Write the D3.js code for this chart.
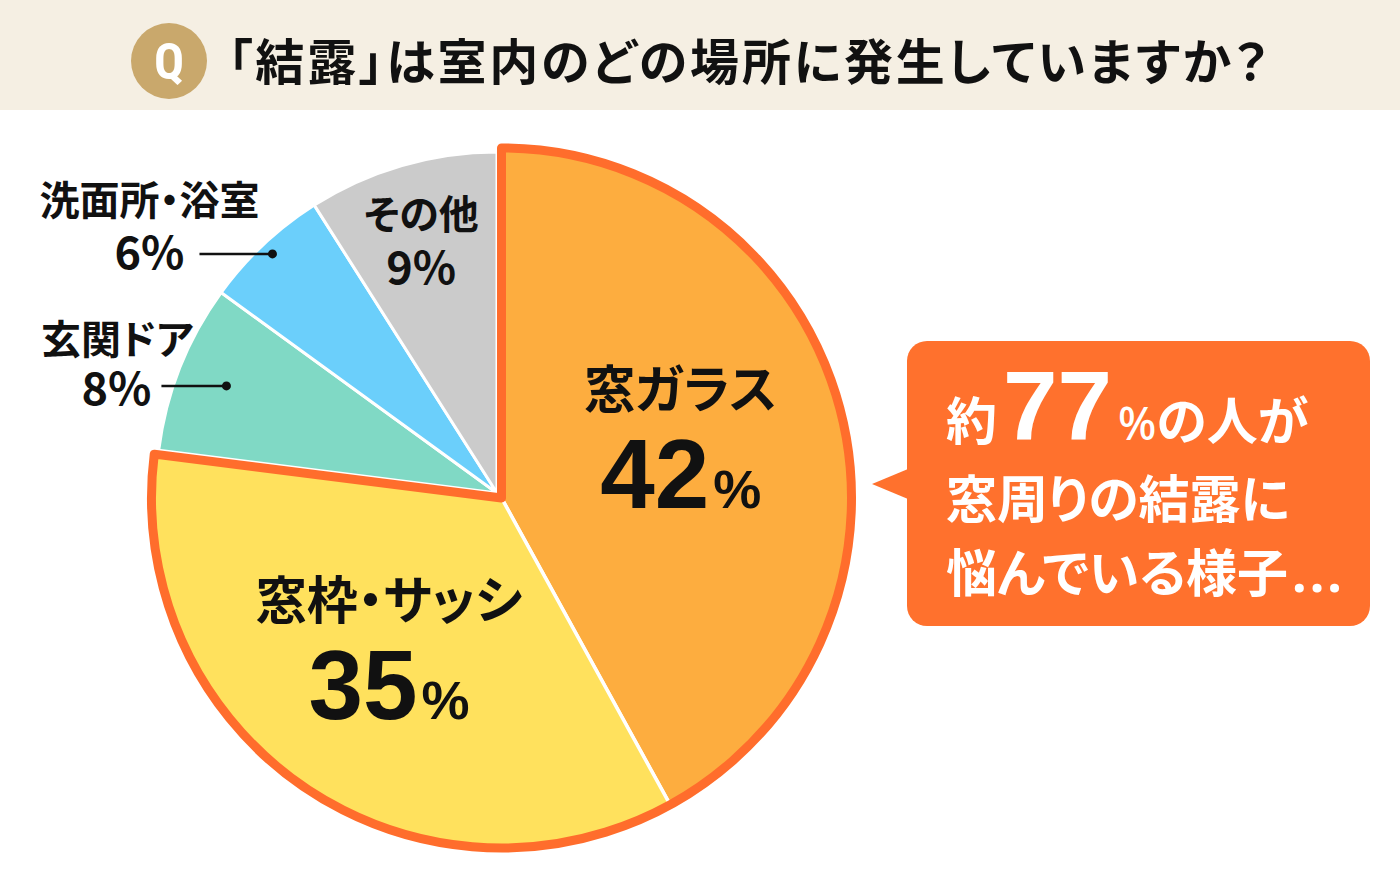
<!DOCTYPE html>
<html>
<head>
<meta charset="utf-8">
<script src="https://cdn.jsdelivr.net/npm/d3@7"></script>
<style>
  html, body { margin: 0; padding: 0; background: #fff; }
  svg { display: block; }
  text { font-family: 'Noto Sans CJK JP', 'Noto Sans', sans-serif; font-weight: 700; font-feature-settings: "palt"; }
</style>
</head>
<body>
<div id="chart"></div>
<script>
// data
const title = '「結露」は室内のどの場所に発生していますか？';
const categories = ['窓ガラス', '窓枠・サッシ', '玄関ドア', '洗面所・浴室', 'その他'];
const values = [42, 35, 8, 6, 9];
const highlighted = ['窓ガラス', '窓枠・サッシ'];
const calloutValue = 77;
const calloutLines = ['窓周りの結露に', '悩んでいる様子'];

// styles
const fills = ['#fdad3f', '#ffe15d', '#80d9c5', '#6bcffb', '#cbcbcb'];
const outlineColor = '#ff6d2c';

const width = 1400;
const height = 880;

const data = categories.map((name, i) => ({ name, value: values[i], fill: fills[i] }));

const $svg = d3.select('#chart').append('svg')
  .attr('width', width)
  .attr('height', height);

// header
$svg.append('rect')
  .attr('width', width).attr('height', 110)
  .attr('fill', '#f5efe3');
$svg.append('circle')
  .attr('cx', 169).attr('cy', 61).attr('r', 38)
  .attr('fill', '#c9a86c');
$svg.append('text')
  .attr('x', 169).attr('y', 79)
  .attr('text-anchor', 'middle')
  .attr('fill', '#fff')
  .style('font-family', "'Roboto Condensed', Roboto, sans-serif")
  .style('font-size', '50px')
  .text('Q');
$svg.append('text')
  .attr('x', 228).attr('y', 80)
  .attr('fill', '#111')
  .attr('textLength', 1040)
  .attr('lengthAdjust', 'spacing')
  .style('font-size', '49px')
  .text(title);

// pie
const pie = d3.pie().sort(null).value(d => d.value);
const arcs = pie(data);

const rBase = 341;
const rHigh = 350;
const base = { x: 497, y: 493 };
const high = { x: 501.5, y: 498 };

const arcBase = d3.arc().innerRadius(0).outerRadius(rBase);
const arcHigh = d3.arc().innerRadius(0).outerRadius(rHigh);

const $base = $svg.append('g').attr('transform', `translate(${base.x},${base.y})`);
$base.selectAll('path')
  .data(arcs)
  .join('path')
  .attr('d', arcBase)
  .attr('fill', d => d.data.fill)
  .attr('stroke', '#fff')
  .attr('stroke-width', 3)
  .attr('stroke-linejoin', 'round');

const highArcs = arcs.filter(d => highlighted.includes(d.data.name));
const $high = $svg.append('g').attr('transform', `translate(${high.x},${high.y})`);
$high.selectAll('path.slice')
  .data(highArcs)
  .join('path')
  .attr('class', 'slice')
  .attr('d', arcHigh)
  .attr('fill', d => d.data.fill)
  .attr('stroke', '#fff')
  .attr('stroke-width', 3.5);

$high.append('path')
  .attr('d', arcHigh({
    startAngle: d3.min(highArcs, d => d.startAngle),
    endAngle: d3.max(highArcs, d => d.endAngle),
  }))
  .attr('fill', 'none')
  .attr('stroke', outlineColor)
  .attr('stroke-width', 9)
  .attr('stroke-linejoin', 'round');

// helper: point at angle/radius
const at = (a, r, c) => [c.x + r * Math.sin(a), c.y - r * Math.cos(a)];
const mid = d => (d.startAngle + d.endAngle) / 2;

// inside labels for highlighted slices
const bigLabelR = { '窓ガラス': 185, '窓枠・サッシ': 200 };
highArcs.forEach(d => {
  const [x, y] = at(mid(d), bigLabelR[d.data.name], high);
  $svg.append('text')
    .attr('x', x).attr('y', y - 44)
    .attr('text-anchor', 'middle')
    .attr('fill', '#111')
    .style('font-size', '51px')
    .text(d.data.name);
  const t = $svg.append('text')
    .attr('x', x).attr('y', y + 56)
    .attr('text-anchor', 'middle')
    .attr('fill', '#111')
    .style('font-family', "'Liberation Sans', Arial, sans-serif");
  t.append('tspan').style('font-size', '98px').text(d.data.value);
  t.append('tspan').style('font-size', '54px').attr('dx', 4).text('%');
});

// その他 (inside)
const other = arcs.find(d => d.data.name === 'その他');
{
  const [x, y] = at(mid(other), 250, base);
  $svg.append('text')
    .attr('x', x - 6).attr('y', y - 24)
    .attr('text-anchor', 'middle')
    .attr('fill', '#111')
    .style('font-size', '40px')
    .text(other.data.name);
  $svg.append('text')
    .attr('x', x - 6).attr('y', y + 31)
    .attr('text-anchor', 'middle')
    .attr('fill', '#111')
    .style('font-size', '45px')
    .text(`${other.data.value}%`);
}

// outside labels with leader lines
const leaders = [
  { name: '洗面所・浴室', r: 328, len: 73, gap: 15, nameDx: 75, nameDy: -39, pctDy: 15 },
  { name: '玄関ドア', r: 291, len: 65, gap: 10, nameDx: 42, nameDy: -32, pctDy: 19 },
];
leaders.forEach(l => {
  const d = arcs.find(a => a.data.name === l.name);
  const [x, y] = at(mid(d), l.r, base);
  $svg.append('line')
    .attr('x1', x - l.len).attr('x2', x)
    .attr('y1', y).attr('y2', y)
    .attr('stroke', '#111')
    .attr('stroke-width', 2.5);
  $svg.append('circle')
    .attr('cx', x).attr('cy', y).attr('r', 4.5)
    .attr('fill', '#111');
  const xr = x - l.len - l.gap;
  $svg.append('text')
    .attr('x', xr).attr('y', y + l.pctDy)
    .attr('text-anchor', 'end')
    .attr('fill', '#111')
    .style('font-size', '45px')
    .text(`${d.data.value}%`);
  $svg.append('text')
    .attr('x', xr + l.nameDx).attr('y', y + l.nameDy)
    .attr('text-anchor', 'end')
    .attr('fill', '#111')
    .style('font-size', '40px')
    .text(d.data.name);
});

// callout
const box = { x: 907, y: 341, w: 463, h: 285, r: 20 };
const $call = $svg.append('g');
$call.append('rect')
  .attr('x', box.x).attr('y', box.y)
  .attr('width', box.w).attr('height', box.h)
  .attr('rx', box.r)
  .attr('fill', '#ff712d');
$call.append('path')
  .attr('d', `M${box.x + 1},469 L872,484 L${box.x + 1},499 Z`)
  .attr('fill', '#ff712d');

const line1 = $call.append('text')
  .attr('x', 946).attr('y', 440)
  .attr('fill', '#fff')
  .style('font-size', '51px');
line1.append('tspan').text('約');
line1.append('tspan')
  .attr('dx', 6)
  .style('font-family', "'Liberation Sans', Arial, sans-serif")
  .style('font-size', '98px')
  .text(calloutValue);
line1.append('tspan')
  .attr('dx', 6)
  .style('font-family', "'Noto Sans', sans-serif")
  .style('font-weight', 500)
  .style('font-size', '45px')
  .text('%');
line1.append('tspan').text('の人が');

calloutLines.forEach((txt, i) => {
  const t = $call.append('text')
    .attr('x', 946).attr('y', 518 + i * 74)
    .attr('fill', '#fff')
    .style('font-size', '51px')
    .text(txt);
  if (i === calloutLines.length - 1) {
    t.append('tspan')
      .attr('dx', 4)
      .style('font-family', "'Noto Sans', sans-serif")
      .style('font-size', '52px')
      .attr('letter-spacing', 3)
      .text('...');
  }
});
</script>
</body>
</html>
